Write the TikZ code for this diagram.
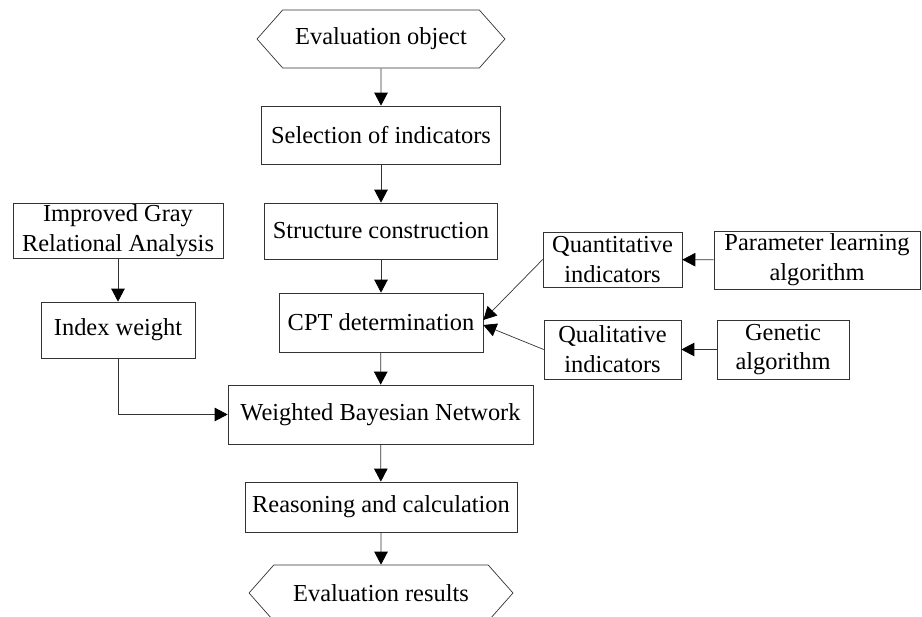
\documentclass[tikz,border=0pt]{standalone}
\usepackage{fontspec}
\setmainfont{Liberation Serif}
\usepackage{tikz}
\usetikzlibrary{arrows.meta,shapes.symbols}

\begin{document}
\begin{tikzpicture}[
      x=0.02cm, y=-0.02cm,
      font=\fontsize{13.9}{17}\selectfont,
      box/.style={rectangle, draw=black!80, align=center, inner sep=0pt, minimum width=#1, minimum height=1.16cm},
      term/.style={signal, signal to=west and east, signal pointer angle=97, draw=black!80, inner sep=0pt, minimum width=#1, minimum height=1.16cm},
      flow/.style={draw=black!80, -{Triangle[length=0.26cm,width=0.27cm,color=black]}}
    ]
      \clip (0,0) rectangle (922,617);
      % Main column
      \node[term=4.96cm] (eobj) at (381,39) {Evaluation object};
      \node[box=4.78cm] (sel) at (381,135) {Selection of indicators};
      \node[box=4.66cm, minimum height=1.12cm] (struct) at (381,231) {Structure construction};
      \node[box=4.08cm, minimum height=1.18cm] (cpt) at (381,322.5) {CPT determination};
      \node[box=6.1cm, minimum height=1.18cm] (wbn) at (380.5,414.5) {Weighted Bayesian Network};
      \node[box=5.44cm, minimum height=1.0cm] (reas) at (381,507) {Reasoning and calculation};
      \node[term=5.28cm, minimum height=1.12cm] (eres) at (381,593) {Evaluation results};
      % Weight branch
      \node[box=4.2cm, minimum height=1.1cm] (igra) at (118,230.5) {Improved Gray\\Relational Analysis};
      \node[box=3.08cm, minimum height=1.12cm] (iw) at (118,330) {Index weight};
      % Indicator branch
      \node[box=2.78cm, minimum height=1.1cm] (quant) at (612.5,259.5) {Quantitative\\indicators};
      \node[box=4.12cm] (plearn) at (817,260) {Parameter learning\\algorithm};
      \node[box=2.74cm, minimum height=1.18cm] (qual) at (612.5,349.5) {Qualitative\\indicators};
      \node[box=2.64cm, minimum height=1.18cm] (gen) at (783,349.5) {Genetic\\algorithm};
      % Arrows
      \draw[flow] (eobj) -- (sel);
      \draw[flow] (sel) -- (struct);
      \draw[flow] (struct) -- (cpt);
      \draw[flow] (cpt) -- (wbn);
      \draw[flow] (wbn) -- (reas);
      \draw[flow] (reas) -- (eres);
      \draw[flow] (igra) -- (iw);
      \draw[flow] (iw.south) |- (wbn.west);
      \draw[flow] (plearn) -- (quant);
      \draw[flow] (gen) -- (qual);
      \draw[flow] (quant.west) -- ([yshift=0.05cm]cpt.east);
      \draw[flow] (qual.west) -- ([yshift=-0.05cm]cpt.east);
    \end{tikzpicture}
\end{document}
